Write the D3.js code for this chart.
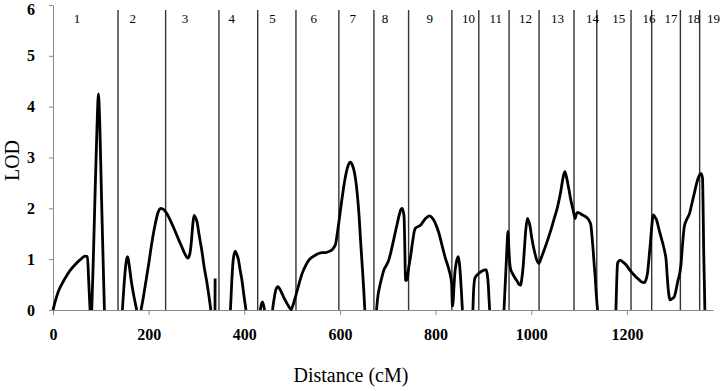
<!DOCTYPE html>
<html>
<head>
  <meta charset="utf-8">
  <title>LOD profile by distance</title>
  <script src="https://d3js.org/d3.v7.min.js"></script>
  <style>
    body { margin: 0; background: #fff; }
    text { font-family: "Liberation Serif", "Times New Roman", serif; }
  </style>
</head>
<body>
  <script>
    // chromosome boundaries (cM) and label centres
    let chromBounds = [136, 235.5, 347, 428, 508, 597.7, 671, 743.5, 834, 890.3, 953.6, 1016.3, 1089.4, 1137, 1208.6, 1251.8, 1311.8, 1352.1];
    let chromNames = ["1","2","3","4","5","6","7","8","9","10","11","12","13","14","15","16","17","18","19"];
    let chromLabelPos = [50, 167, 276, 374, 459, 545, 627, 694, 788, 869, 926, 988, 1055, 1128, 1183, 1246, 1292, 1340, 1381];

    let xTicks = [0, 200, 400, 600, 800, 1000, 1200];
    let yTicks = [0, 1, 2, 3, 4, 5, 6];

    // LOD profile: [cM, LOD], null marks a break in the line
    let lodCurve = [
      [0,0],[5,0.18],[11,0.36],[18,0.5],[25,0.62],[35,0.77],[46,0.89],[57,0.99],[67,1.06],[72,1.05],[74.5,0.6],[76,0.3],[77.5,0],
      null,
      [81,0],[84,0.9],[88,2.3],[92,3.6],[95,4.25],[98,3.6],[101.5,2.2],[105,0.9],[107.5,0],
      null,
      [145,0],[149,0.55],[153,0.95],[156,1.05],[159,0.9],[164,0.55],[170,0.23],[175,0],
      null,
      [184,0],[188,0.2],[193,0.49],[200,0.9],[207,1.34],[214,1.7],[220,1.93],[226,2.0],[232,1.97],[238,1.9],[246,1.75],[255,1.56],[262,1.4],[269,1.25],[276,1.1],[282,1.02],[286,1.1],[289,1.31],[292,1.65],[295,1.86],[298,1.82],[301,1.74],[306,1.45],[311,1.18],[316,0.85],[322,0.53],[326,0.28],[330,0],
      null,
      [338.7,0],[339,0.62],
      null,
      [371,0],[374,0.6],[377,1.0],[381,1.16],[384,1.1],[388,0.98],[391,0.8],[395,0.59],[399,0.3],[403.5,0],
      null,
      [433.5,0],[436,0.12],[438,0.16],[440,0.1],[442.5,0],
      null,
      [459,0],[462,0.2],[466,0.4],[470.5,0.46],[475,0.4],[482,0.26],[488,0.15],[493,0.07],[498,0.01],[502,0.1],[507,0.26],[514,0.5],[521,0.72],[528,0.87],[535,0.98],[542,1.04],[549,1.08],[555,1.11],[562,1.13],[570,1.13],[577,1.15],[584,1.19],[588,1.24],[591,1.3],[594,1.48],[597.5,1.71],[603,2.1],[608,2.43],[612,2.65],[617,2.84],[622,2.91],[626,2.85],[629,2.76],[633,2.55],[636,2.3],[640,1.85],[643,1.38],[646,0.95],[648,0.66],[650,0.35],[652,0],
      null,
      [676.5,0],[679,0.25],[683,0.46],[687,0.62],[692,0.79],[697,0.88],[702,0.98],[706,1.12],[710.6,1.31],[715,1.5],[720,1.71],[724,1.87],[727,1.97],[730,2.0],[732,1.95],[734,1.84],[735.5,1.3],[737,0.59],[739,0.58],[740.7,0.62],[744,0.85],[747.6,1.05],[752,1.35],[756,1.57],[758,1.61],[763,1.64],[768.6,1.67],[774,1.74],[779,1.8],[784,1.84],[788,1.85],[792,1.82],[796,1.77],[801,1.67],[807,1.51],[814,1.25],[821,1.0],[828,0.79],[833.5,0.52],[835,0.1],[836,0.08],[838,0.39],[840,0.7],[843,0.92],[847.5,1.05],[850,0.9],[852,0.66],[854,0.35],[856,0],
      null,
      [878,0],[879,0.3],[882,0.62],[887,0.69],[893,0.74],[898,0.77],[903,0.79],[906,0.79],[908,0.7],[910,0.52],[911.5,0.25],[913,0],
      null,
      [943,0],[945,0.4],[948,0.98],[951.5,1.55],[953,1.25],[955,0.92],[957,0.8],[960.6,0.72],[966,0.63],[971,0.56],[975,0.5],[978,0.49],[980,0.6],[983,0.85],[986,1.25],[988.5,1.57],[992,1.8],[994,1.76],[997,1.67],[1001,1.42],[1006,1.18],[1011,1.0],[1016,0.92],[1021,1.03],[1027,1.18],[1034,1.37],[1041,1.57],[1048,1.8],[1055,2.03],[1062,2.35],[1066,2.58],[1070,2.72],[1074,2.6],[1079,2.36],[1083,2.15],[1086,2.03],[1089,1.9],[1092,1.8],[1094,1.88],[1097,1.92],[1102,1.9],[1107,1.87],[1113,1.84],[1118,1.8],[1122,1.74],[1124.6,1.67],[1127,1.45],[1129.4,1.18],[1131.5,0.9],[1133.6,0.66],[1136,0.3],[1138.6,0],
      null,
      [1177,0],[1178.5,0.5],[1180.5,0.92],[1183,0.96],[1186,0.98],[1192,0.94],[1198,0.89],[1205,0.8],[1212,0.72],[1219,0.65],[1226,0.59],[1231,0.55],[1236,0.54],[1240,0.6],[1243,0.72],[1246,1.0],[1249,1.31],[1252,1.65],[1255,1.87],[1258,1.84],[1262,1.77],[1268,1.55],[1275,1.31],[1279,1.15],[1282,0.98],[1284,0.7],[1286,0.45],[1288,0.28],[1290,0.2],[1294,0.22],[1299,0.26],[1306,0.55],[1313,0.89],[1316,1.25],[1320,1.64],[1325,1.78],[1331,1.9],[1336,2.1],[1341,2.3],[1346,2.5],[1350,2.62],[1355,2.68],[1358,2.6],[1359.5,1.9],[1360.5,1.18],[1362,0.5],[1363,0]
    ];

    let margin = {top: 5, right: 7, bottom: 81, left: 53},
        width = 720 - margin.left - margin.right,
        height = 391 - margin.top - margin.bottom;

    let svg = d3.select("body")
                .append("svg")
                .attr("width", 720)
                .attr("height", 391)
                .append("g")
                .attr("transform", "translate(" + margin.left + "," + margin.top + ")");

    let x = d3.scaleLinear().domain([0, 1380]).range([0, width]);
    let y = d3.scaleLinear().domain([0, 6]).range([height, 0]);

    // chromosome separators
    svg.selectAll(".sep")
       .data(chromBounds)
       .enter()
       .append("line")
       .attr("class", "sep")
       .attr("x1", d => x(d)).attr("x2", d => x(d))
       .attr("y1", 5).attr("y2", height)
       .attr("stroke", "#333")
       .attr("stroke-width", 1.4);

    svg.selectAll(".chrom")
       .data(chromNames)
       .enter()
       .append("text")
       .attr("class", "chrom")
       .attr("x", (d, i) => x(chromLabelPos[i]))
       .attr("y", 18)
       .attr("text-anchor", "middle")
       .attr("font-size", 13)
       .attr("fill", "#000")
       .text(d => d);

    // axes
    let xAxis = svg.append("g")
       .attr("transform", "translate(0," + height + ")")
       .call(d3.axisBottom(x).tickValues(xTicks).tickFormat(d3.format("d")).tickSize(5).tickPadding(14).tickSizeOuter(0));
    let yAxis = svg.append("g")
       .call(d3.axisLeft(y).tickValues(yTicks).tickFormat(d3.format("d")).tickSize(4).tickPadding(14).tickSizeOuter(0));

    [xAxis, yAxis].forEach(function(a) {
      a.selectAll("path, line").attr("stroke", "#888");
      a.selectAll("text")
       .attr("font-family", "'Liberation Serif', serif")
       .attr("font-weight", "bold")
       .attr("font-size", 16)
       .attr("fill", "#000");
    });
    // keep the top label inside the picture
    yAxis.selectAll(".tick text").filter(d => d === 6).attr("dy", "0.6em");

    // LOD curve
    let line = d3.line()
                 .defined(d => d !== null)
                 .x(d => x(d[0]))
                 .y(d => y(d[1]))
                 .curve(d3.curveMonotoneX);

    svg.append("path")
       .datum(lodCurve)
       .attr("d", line)
       .attr("fill", "none")
       .attr("stroke", "#000")
       .attr("stroke-width", 2.8)
       .attr("stroke-linejoin", "round");

    // axis titles
    svg.append("text")
       .attr("transform", "translate(" + (-34) + "," + (y(3) + 3) + ") rotate(-90)")
       .attr("text-anchor", "middle")
       .attr("font-size", 20)
       .text("LOD");

    svg.append("text")
       .attr("x", x(623))
       .attr("y", height + 72)
       .attr("text-anchor", "middle")
       .attr("font-size", 20)
       .text("Distance (cM)");
  </script>
</body>
</html>
